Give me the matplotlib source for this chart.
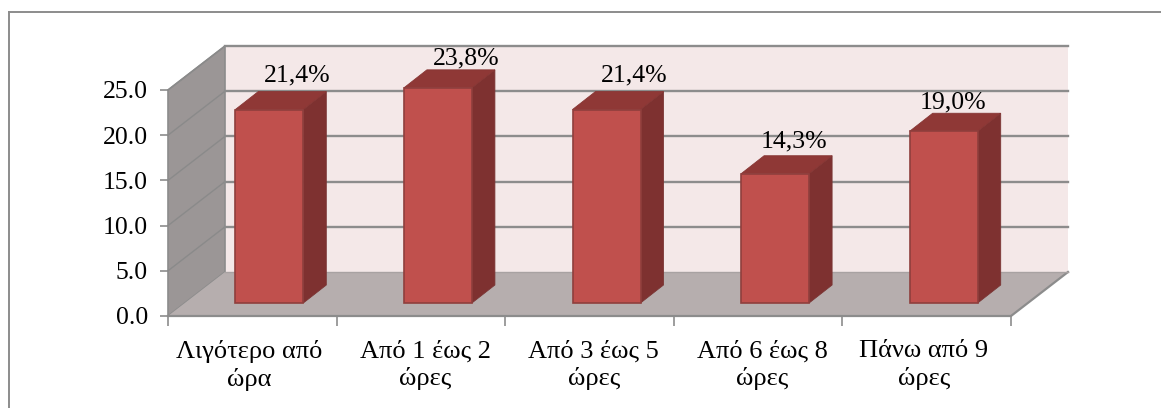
import matplotlib
matplotlib.use("Agg")
import matplotlib.pyplot as plt
from matplotlib.patches import Polygon

plt.rcParams["font.family"] = ["Liberation Serif", "DejaVu Serif"]

# datos
categorias = ["Λιγότερο από\nώρα", "Από 1 έως 2\nώρες", "Από 3 έως 5\nώρες",
              "Από 6 έως 8\nώρες", "Πάνω από 9\nώρες"]
valores = [21.4, 23.8, 21.4, 14.3, 19.0]
etiquetas = ["21,4%", "23,8%", "21,4%", "14,3%", "19,0%"]
ticks_y = [0, 5, 10, 15, 20, 25]

W, H = 1161, 408
# ejes en pixeles de la imagen
x0, x1 = 168, 1011
y0, y1 = 316, 90
px_x = (x1 - x0) / 5
px_y = (y0 - y1) / 25

fig = plt.figure(figsize=(W / 100, H / 100), dpi=100, facecolor="white")
ax = fig.add_axes([x0 / W, 1 - y0 / H, (x1 - x0) / W, (y0 - y1) / H])
ax.set_xlim(0, 5)
ax.set_ylim(0, 25)
ax.patch.set_alpha(0)
for s in ax.spines.values():
    s.set_visible(False)


def prof(x, y, dx, dy):
    # desplazamiento de profundidad dado en pixeles
    return (x + dx / px_x, y + dy / px_y)


def poly(puntos, color, edge="none", lw=0, z=1):
    ax.add_patch(Polygon(puntos, closed=True, facecolor=color, edgecolor=edge,
                         linewidth=lw, zorder=z, clip_on=False))


DX, DY = 57, 44
GRIS = "#8c8c8c"
FS = 19

# pared de fondo, pared lateral y suelo
poly([prof(0, 0, DX, DY), prof(5, 0, DX, DY), prof(5, 25, DX, DY), prof(0, 25, DX, DY)], "#f4e8e8")
poly([(0, 0), prof(0, 0, DX, DY), prof(0, 25, DX, DY), (0, 25)], "#9b9696", GRIS, 1.2)
poly([(0, 0), (5, 0), prof(5, 0, DX, DY), prof(0, 0, DX, DY)], "#b6aeae")
ax.plot(*zip((0, 0), (5, 0), prof(5, 0, DX, DY)), color=GRIS, lw=1.6, zorder=2, clip_on=False)
ax.plot(*zip(prof(0, 0, DX, DY), prof(5, 0, DX, DY)), color="#a8a2a2", lw=1, zorder=2, clip_on=False)

# rejilla
for t in ticks_y:
    if t > 0:
        ax.plot(*zip((0, t), prof(0, t, DX, DY)), color="#8a8a8a", lw=1, zorder=2, clip_on=False)
        ax.plot(*zip(prof(0, t, DX, DY), prof(5, t, DX, DY)), color=GRIS, lw=1.7, zorder=2, clip_on=False)

# barras
BW = 68
sube = [28, 23, 28, 26, 23]  # texto sobre la barra, en pixeles
lado = [45, 45, 45, 36, 26]
for i, v in enumerate(valores):
    cx = i + 0.5
    a = prof(cx, 0, 17 - BW / 2, 13)
    b = prof(cx, 0, 17 + BW / 2, 13)
    c = prof(cx, v, 17 + BW / 2, 13)
    d = prof(cx, v, 17 - BW / 2, 13)
    poly([b, c, prof(*c[:2], 23, 18), prof(*b[:2], 23, 18)], "#7e3130", "#7a3534", 0.6, 3)
    poly([d, c, prof(*c[:2], 23, 18), prof(*d[:2], 23, 18)], "#8f3836", "#873634", 0.6, 3)
    poly([a, b, c, d], "#c0504d", "#8f3f3d", 1.2, 4)
    tx, ty = prof(cx, v, lado[i], 13 + sube[i])
    ax.text(tx, ty, etiquetas[i], ha="center", va="baseline", fontsize=FS - 0.5, color="black", zorder=5, clip_on=False)

ax.set_yticks(ticks_y)
ax.set_yticklabels(["%.1f" % t for t in ticks_y], fontsize=FS - 0.5)
ax.set_xticks(range(6))
ax.set_xticklabels([])
ax.tick_params(axis="y", length=6, width=1.2, color=GRIS, pad=8.5)
ax.tick_params(axis="x", length=7, width=1.2, color=GRIS)
despl = [-2, 3, 3, 3, -2]
for i, c in enumerate(categorias):
    ax.annotate(c, (i + 0.5, 0), xytext=(despl[i], -17.5), textcoords="offset points", ha="center", va="top",
                fontsize=FS, linespacing=1.25, annotation_clip=False)

# borde exterior
fig.add_artist(plt.Line2D([9 / W, 9 / W], [0, 1 - 12 / H], color="#8c8c8c", lw=1.4))
fig.add_artist(plt.Line2D([9 / W, 1], [1 - 12 / H, 1 - 12 / H], color="#8c8c8c", lw=1.4))

fig.savefig("out.png", dpi=100)
